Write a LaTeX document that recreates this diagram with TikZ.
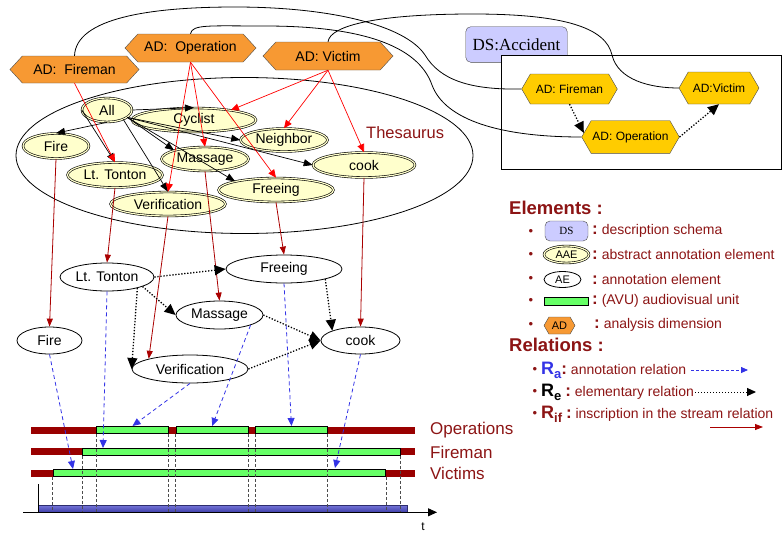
\documentclass[tikz,border=0pt]{standalone}
\usepackage{fontspec}
\setmainfont{Liberation Sans}
\newfontfamily\dsfont{Liberation Serif}
\usetikzlibrary{shapes.geometric,shapes.symbols,arrows.meta}

\definecolor{adorange}{RGB}{247,153,51}
\definecolor{adgold}{RGB}{255,204,0}
\definecolor{aaefill}{RGB}{255,255,204}
\definecolor{dsfill}{RGB}{204,204,255}
\definecolor{avugreen}{RGB}{102,255,102}
\definecolor{bardark}{RGB}{153,0,0}
\definecolor{legred}{RGB}{140,20,20}
\definecolor{rifred}{RGB}{170,0,0}
\definecolor{relblue}{RGB}{51,51,230}
\definecolor{timetop}{RGB}{115,115,215}
\definecolor{timebot}{RGB}{60,60,165}
\definecolor{timeedge}{RGB}{45,45,110}

\newcommand{\pxsize}[1]{\fontsize{#1}{#1}\selectfont}
\newcommand{\colonmark}{{\bfseries\pxsize{17}:}}
\newcommand{\relmark}[2]{{\color{#1}\bfseries\pxsize{18}R\raisebox{-4pt}{\pxsize{13}#2}}}

\tikzstyle{abstract}=[ellipse, draw, line width=0.6pt, double=aaefill, double distance=1.2pt, fill=aaefill, inner sep=0pt, font=\pxsize{14}]
\tikzstyle{element}=[ellipse, draw, line width=0.8pt, fill=white, inner sep=0pt, font=\pxsize{14}]
\tikzstyle{dimension}=[signal, signal to=east and west, signal pointer angle=95, draw=black!70, fill=adorange, inner sep=0pt, font=\pxsize{14}]
\tikzstyle{dimgold}=[signal, signal to=east and west, signal pointer angle=120, draw=black!70, fill=adgold, inner sep=0pt, font=\pxsize{12}]
\tikzstyle{schema}=[rectangle, rounded corners=5pt, draw=black!70, fill=dsfill, inner sep=0pt]
\tikzstyle{avu}=[rectangle, draw, line width=0.8pt, fill=avugreen, inner sep=0pt, minimum height=7.3]
\tikzstyle{track}=[rectangle, fill=bardark, inner sep=0pt, minimum height=7, minimum width=384]
\tikzstyle{adlink}=[line width=0.8pt]
\tikzstyle{arrow}=[line width=0.7pt, -{Triangle[length=9pt,width=7pt]}]
\tikzstyle{redarrow}=[red, line width=0.7pt, -{Triangle[length=8pt,width=7pt]}]
\tikzstyle{rifarrow}=[rifred, line width=0.8pt, -{Triangle[length=8pt,width=6pt]}]
\tikzstyle{elemarrow}=[line width=1.3pt, dash pattern=on 1.3pt off 1.7pt, -{Triangle[length=11pt,width=10pt]}]
\tikzstyle{annarrow}=[relblue, line width=0.8pt, dash pattern=on 4pt off 3pt, -{Triangle[length=8pt,width=7pt]}]
\tikzstyle{guide}=[black!70, line width=0.9pt, dash pattern=on 3pt off 2pt]
\tikzstyle{legtext}=[legred, font=\pxsize{14}, inner sep=0pt, anchor=west]
\tikzstyle{legtitle}=[legred, font=\pxsize{18.5}\bfseries, inner sep=0pt, anchor=west]
\tikzstyle{bulletmark}=[legred, font=\pxsize{13}, inner sep=0pt]

\begin{document}
\begin{tikzpicture}[x=1pt, y=-1pt]
      \useasboundingbox (0, 0) rectangle (782, 533);

      \node[ellipse, draw, line width=0.8pt, minimum width=457, minimum height=156] (thes) at (244.5, 155.5) {};
      \node[legtext, font=\pxsize{16.5}] (theslab) at (366, 133) {Thesaurus};

      \node[schema, minimum width=101.5, minimum height=35.6, font=\dsfont\pxsize{17}] (ds) at (516.5, 44.5) {DS:Accident};
      \node[draw, fill=white, line width=0.8pt, minimum width=280, minimum height=113.5, inner sep=0pt] (box) at (641, 112.5) {};

      \node[dimgold, minimum width=95.6, minimum height=30] (yfire) at (569.5, 89) {AD: Fireman};
      \node[dimgold, minimum width=80, minimum height=32] (yvic) at (719, 88) {AD:Victim};
      \node[dimgold, minimum width=97.6, minimum height=32.6] (yop) at (630.5, 137) {AD: Operation};

      \node[dimension, minimum width=129, minimum height=27] (ofire) at (74.5, 69.5) {AD:\ \ Fireman};
      \node[dimension, minimum width=131, minimum height=28] (oop) at (190.5, 48) {AD:\ \ Operation};
      \node[dimension, minimum width=130, minimum height=28] (ovic) at (328, 56) {AD: Victim};

      \draw[adlink] (ofire.north) .. controls (76, 18) and (150, 7) .. (235, 7) .. controls (330, 7) and (405, 25) .. (425, 55) .. controls (440, 80) and (470, 90) .. (yfire.west);
      \draw[adlink] (oop.north) .. controls (192, 24) and (210, 26) .. (265, 26) .. controls (360, 26) and (418, 45) .. (432, 85) .. controls (445, 120) and (500, 137) .. (yop.west);
      \draw[adlink] (ovic.north) .. controls (330, 25) and (380, 14) .. (473, 14) .. controls (565, 14) and (606, 28) .. (612, 55) .. controls (618, 80) and (650, 88) .. (yvic.west);

      \draw[elemarrow] (yfire.south) to (yop.175);
      \draw[elemarrow] (yop.east) to (yvic.south);

      \node[abstract, minimum width=50, minimum height=24] (tall) at (107, 110) {All};
      \node[abstract, minimum width=124, minimum height=24] (tcyc) at (194, 120) {Cyclist};
      \node[abstract, minimum width=87, minimum height=23] (tneigh) at (284, 140) {Neighbor};
      \node[abstract, minimum width=66, minimum height=25] (tfire) at (56, 146) {Fire};
      \node[abstract, minimum width=87, minimum height=24] (tmass) at (205, 159) {Massage};
      \node[abstract, minimum width=102, minimum height=25] (tcook) at (364, 165) {cook};
      \node[abstract, minimum width=95, minimum height=25] (tlt) at (115, 175) {Lt. Tonton};
      \node[abstract, minimum width=115, minimum height=24] (tfree) at (276, 190) {Freeing};
      \node[abstract, minimum width=115, minimum height=24] (tveri) at (168, 204) {Verification};

      \node[element, minimum width=94, minimum height=28] (elt) at (107, 277) {Lt. Tonton};
      \node[element, minimum width=116, minimum height=28] (efree) at (284, 269) {Freeing};
      \node[element, minimum width=87, minimum height=28] (emass) at (219.5, 315) {Massage};
      \node[element, minimum width=65, minimum height=27] (efire) at (49.5, 340.5) {Fire};
      \node[element, minimum width=79, minimum height=27] (ecook) at (360.5, 340.5) {cook};
      \node[element, minimum width=116, minimum height=28] (everi) at (190, 369) {Verification};

      \draw[arrow] (tall.east) to (tcyc.north);
      \draw[arrow] (tall.south) to (tfire.north);
      \draw[arrow] (tall.west) to (tlt.north);
      \draw[arrow] (tall.-20) to (tneigh.west);
      \draw[arrow] (tall.-20) to (tmass.north west);
      \draw[arrow] (tall.-20) to (tcook.west);
      \draw[arrow] (tall.-20) to (tfree.north west);
      \draw[arrow] (tall.-30) to (tveri.north);

      \draw[redarrow] (ofire.south) to (tlt.north);
      \draw[redarrow] (oop.south) to (tveri.north);
      \draw[redarrow] (oop.south) to (tmass.north);
      \draw[redarrow] (oop.south) to (tfree.north);
      \draw[redarrow] (ovic.south) to (tcyc.15);
      \draw[redarrow] (ovic.south) to (tneigh.north);
      \draw[redarrow] (ovic.south) to (tcook.north);

      \draw[rifarrow] (tfire.south) to (efire.north);
      \draw[rifarrow] (tlt.south) to (elt.north);
      \draw[rifarrow] (tveri.south) to (everi.north west);
      \draw[rifarrow] (tmass.south) to (emass.north);
      \draw[rifarrow] (tfree.south) to (efree.north);
      \draw[rifarrow] (tcook.south) to (ecook.north);

      \draw[elemarrow] (elt.east) to (efree.west);
      \draw[elemarrow] (elt.-15) to (emass.west);
      \draw[elemarrow] (elt.-20) to (everi.west);
      \draw[elemarrow] (efree.south east) to (ecook.north west);
      \draw[elemarrow] (emass.east) to (ecook.west);
      \draw[elemarrow] (everi.east) to (ecook.west);

      \coordinate (tl) at (0, 512.3);
      \node[rectangle, inner sep=0pt, minimum width=368.6, minimum height=7, top color=timetop, bottom color=timebot, draw=timeedge, line width=0.6pt] (tbar) at (223, 509) {};
      \node[track] (oprow) at (223, 430) {};
      \node[track] (firow) at (223, 451.7) {};
      \node[track] (virow) at (223, 473) {};
      \node[avu, minimum width=71.6] (op1) at (132.5, 430) {};
      \node[avu, minimum width=72.3] (op2) at (212.2, 430) {};
      \node[avu, minimum width=71.6] (op3) at (291.5, 430) {};
      \node[avu, minimum width=317.7] (fir) at (241.2, 451.7) {};
      \node[avu, minimum width=332.4] (vic) at (219.5, 473) {};
      \foreach \u in {op1, op2, op3, fir, vic} {
        \draw[guide] (\u.south west) -- (\u.south west |- tl);
        \draw[guide] (\u.south east) -- (\u.south east |- tl);
      }
      \coordinate (ax0) at (23, 512.3);
      \coordinate (ax1) at (437, 512.3);
      \coordinate (ay0) at (38.7, 484);
      \draw[line width=0.8pt, -{Triangle[length=9pt,width=8pt]}] (ax0) to (ax1);
      \draw[line width=0.8pt] (ay0) to (ay0 |- ax0);
      \node[font=\pxsize{12}, inner sep=0pt] (tlab) at (423, 527) {t};

      \node[legtext, font=\pxsize{17}] (oplab) at (430, 430) {Operations};
      \node[legtext, font=\pxsize{17}] (filab) at (430, 452) {Fireman};
      \node[legtext, font=\pxsize{17}] (vilab) at (430, 473) {Victims};

      \coordinate (ftgt) at (103, 448);
      \coordinate (vtgt1) at (73, 469);
      \coordinate (vtgt2) at (335, 468);
      \draw[annarrow] (everi.south) to (op1.north);
      \draw[annarrow] (emass.south east) to (op2.north);
      \draw[annarrow] (efree.south) to (op3.north);
      \draw[annarrow] (elt.south) to (ftgt);
      \draw[annarrow] (efire.south) to (vtgt1);
      \draw[annarrow] (ecook.south) to (vtgt2);

      \node[legtitle] (elems) at (509, 208) {Elements :};
      \foreach \y in {232, 255, 279, 301, 325}
        \node[bulletmark] at (531, \y) {•};
      \node[schema, minimum width=43, minimum height=20, font=\dsfont\pxsize{11}] (lds) at (566.5, 231) {DS};
      \node[legtext] (ldstext) at (592, 231) {\colonmark\ description schema};
      \node[abstract, minimum width=45, minimum height=17, font=\pxsize{11}] (laae) at (566.5, 254.5) {AAE};
      \node[legtext] (laaetext) at (592, 254.5) {\colonmark\ abstract annotation element};
      \node[element, minimum width=37, minimum height=16, font=\pxsize{11}] (lae) at (562.5, 279.5) {AE};
      \node[legtext] (laetext) at (592, 279) {\colonmark\ annotation element};
      \node[avu, minimum width=44, minimum height=8] (lavu) at (566, 301) {};
      \node[legtext] (lavutext) at (592, 301) {\colonmark\ (AVU) audiovisual unit};
      \node[dimension, signal pointer angle=120, minimum width=31, minimum height=17, font=\pxsize{11}] (lad) at (559.5, 325.5) {AD};
      \node[legtext] (ladtext) at (594, 325) {\colonmark\ analysis dimension};

      \node[legtitle] (rels) at (509, 345) {Relations :};
      \foreach \y in {370, 392, 414}
        \node[bulletmark] at (535, \y) {•};
      \node[legtext] (ra) at (541, 370) {\relmark{relblue}{a}\colonmark\ annotation relation};
      \node[legtext] (re) at (541, 392) {\relmark{black}{e}\ \colonmark\ elementary relation};
      \node[legtext] (rif) at (541, 414) {\relmark{legred}{if}\ \colonmark\ inscription in the stream relation};
      \coordinate (ratip) at (748, 370);
      \coordinate (retip) at (756, 392);
      \coordinate (rif1) at (710, 427);
      \coordinate (rif2) at (763, 427);
      \draw[annarrow, dash pattern=on 3pt off 2pt, -{Triangle[length=7pt,width=6pt]}] ([xshift=5pt]ra.east) to (ratip);
      \draw[elemarrow, line width=1pt, -{Triangle[length=9pt,width=8pt]}] ([xshift=1pt]re.east) to (retip);
      \draw[rifarrow] (rif1) to (rif2);
    \end{tikzpicture}
\end{document}
